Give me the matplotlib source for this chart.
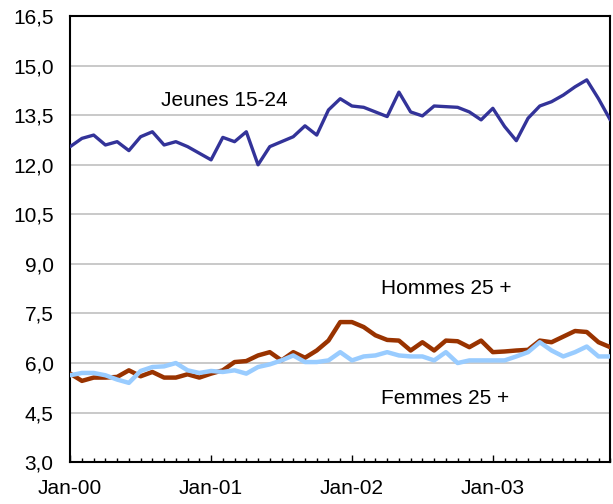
import pandas as pd
import matplotlib
matplotlib.use("Agg")
import matplotlib.pyplot as plt
from matplotlib.ticker import MultipleLocator, FixedLocator

plt.rcParams['font.family'] = ['Liberation Sans', 'DejaVu Sans']

# monthly series, Jan-00 .. Nov-03
months = pd.date_range("2000-01-01", periods=47, freq="MS")

jeunes = [12.55, 12.8, 12.9, 12.6, 12.7, 12.43, 12.85, 13.0, 12.6, 12.7,
          12.55, 12.35, 12.15, 12.83, 12.7, 13.0, 12.0, 12.55, 12.7, 12.85,
          13.18, 12.9, 13.66, 14.0, 13.78, 13.74, 13.6, 13.46, 14.2, 13.6,
          13.48, 13.78, 13.76, 13.74, 13.6, 13.36, 13.71, 13.16, 12.73, 13.41,
          13.78, 13.91, 14.11, 14.36, 14.57, 14.0, 13.36]

hommes = [5.68, 5.46, 5.56, 5.56, 5.58, 5.78, 5.6, 5.73, 5.56, 5.56,
          5.66, 5.56, 5.68, 5.78, 6.03, 6.06, 6.23, 6.33, 6.08, 6.33,
          6.16, 6.38, 6.68, 7.24, 7.24, 7.09, 6.84, 6.7, 6.68, 6.38,
          6.63, 6.38, 6.68, 6.66, 6.48, 6.68, 6.33, 6.35, 6.38, 6.4,
          6.68, 6.63, 6.8, 6.97, 6.94, 6.63, 6.48]

femmes = [5.63, 5.7, 5.7, 5.63, 5.5, 5.4, 5.76, 5.88, 5.9, 6.0,
          5.78, 5.7, 5.76, 5.73, 5.78, 5.68, 5.88, 5.96, 6.08, 6.23,
          6.03, 6.03, 6.08, 6.33, 6.08, 6.2, 6.23, 6.33, 6.23, 6.2,
          6.2, 6.08, 6.33, 6.0, 6.08, 6.08, 6.08, 6.08, 6.2, 6.33,
          6.63, 6.38, 6.2, 6.33, 6.5, 6.2, 6.2]

year_labels = ["Jan-00", "Jan-01", "Jan-02", "Jan-03"]

fig = plt.figure(figsize=(6.13, 5.04), dpi=100)
ax = fig.add_axes([0.1145, 0.083, 0.881, 0.885])

x = list(range(len(months)))
style = dict(solid_capstyle="round", solid_joinstyle="round")
ax.plot(x, jeunes, color="#333399", lw=2.4, zorder=3, **style)
ax.plot(x, hommes, color="#993300", lw=3.2, zorder=3, **style)
ax.plot(x, femmes, color="#99CCFF", lw=3.2, zorder=4, **style)

ax.set_xlim(0, len(months) - 1)
ax.set_ylim(3.0, 16.5)

# y axis: gridlines every 1.5, comma decimals
yt = [3.0 + 1.5 * i for i in range(10)]
ax.yaxis.set_major_locator(FixedLocator(yt))
ax.set_yticklabels([f"{v:.1f}".replace(".", ",") for v in yt])
ax.grid(axis="y", color="#C0C0C0", lw=1.2)
ax.set_axisbelow(True)
ax.tick_params(axis="y", length=0, pad=12, labelsize=15)

# x axis: month minor ticks, January majors
majors = [i for i, d in enumerate(months) if d.month == 1]
ax.xaxis.set_major_locator(FixedLocator(majors))
ax.xaxis.set_minor_locator(MultipleLocator(1))
ax.set_xticklabels(year_labels)
ax.tick_params(axis="x", which="major", direction="in", length=5, width=1,
               pad=12, labelsize=15)
ax.tick_params(axis="x", which="minor", direction="in", length=3, width=1)

for s in ax.spines.values():
    s.set_linewidth(1.5)
    s.set_color("black")

ax.text(13.1, 13.96, "Jeunes 15-24", ha="center", va="center", fontsize=15)
ax.text(32.0, 8.27, "Hommes 25 +", ha="center", va="center", fontsize=15)
ax.text(31.9, 4.94, "Femmes 25 +", ha="center", va="center", fontsize=15)

fig.savefig("out.png", dpi=100)
